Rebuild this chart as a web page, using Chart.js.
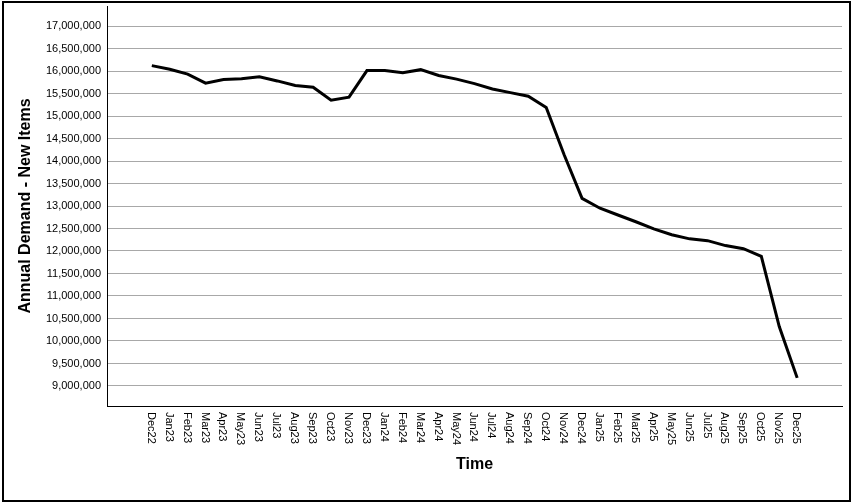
<!DOCTYPE html>
<html>
<head>
<meta charset="utf-8">
<script src="https://cdn.jsdelivr.net/npm/chart.js@4.4.0/dist/chart.umd.min.js"></script>
<style>
	html, body { margin: 0; padding: 0; background: #fff; }
	canvas { display: block; }
</style>
</head>
<body>
<canvas id="chart" width="853" height="503"></canvas>
<script>
const months = [
	'Dec22', 'Jan23', 'Feb23', 'Mar23', 'Apr23', 'May23', 'Jun23', 'Jul23', 'Aug23', 'Sep23', 'Oct23', 'Nov23',
	'Dec23', 'Jan24', 'Feb24', 'Mar24', 'Apr24', 'May24', 'Jun24', 'Jul24', 'Aug24', 'Sep24', 'Oct24', 'Nov24',
	'Dec24', 'Jan25', 'Feb25', 'Mar25', 'Apr25', 'May25', 'Jun25', 'Jul25', 'Aug25', 'Sep25', 'Oct25', 'Nov25',
	'Dec25',
];

// annual demand, new items
const demand = [
	16120000, 16040000, 15930000, 15730000, 15810000, 15830000, 15870000, 15780000, 15680000, 15640000, 15350000, 15420000,
	16010000, 16010000, 15960000, 16030000, 15900000, 15820000, 15720000, 15600000, 15520000, 15440000, 15190000, 14140000,
	13170000, 12950000, 12800000, 12650000, 12490000, 12360000, 12270000, 12230000, 12120000, 12050000, 11880000, 10320000,
	9180000,
];

// y tick values shown on the axis
const yTicks = [
	9000000, 9500000, 10000000, 10500000, 11000000, 11500000, 12000000, 12500000, 13000000,
	13500000, 14000000, 14500000, 15000000, 15500000, 16000000, 16500000, 17000000,
];

const yTitle = 'Annual Demand - New Items';
const xTitle = 'Time';
const FONT = "'Liberation Sans', Arial, sans-serif";

// outer frame round the whole picture
const framePlugin = {
	id: 'frame',
	beforeDraw: ( chart ) => {
		const ctx = chart.ctx;
		ctx.save();
		ctx.fillStyle = '#fff';
		ctx.fillRect( 0, 0, chart.width, chart.height );
		ctx.strokeStyle = '#000';
		ctx.lineWidth = 2;
		ctx.strokeRect( 3, 2, chart.width - 6, chart.height - 4 );
		ctx.restore();
	},
};

// month labels read top to bottom, which Chart.js can't rotate that way
const monthLabels = {
	id: 'monthLabels',
	afterDraw: ( chart ) => {
		const ctx = chart.ctx;
		const xs = chart.scales.x;
		ctx.save();
		ctx.fillStyle = '#000';
		ctx.font = '11px ' + FONT;
		ctx.textAlign = 'left';
		ctx.textBaseline = 'middle';
		months.forEach( ( m, i ) => {
			ctx.save();
			ctx.translate( xs.getPixelForValue( i ) - 1, chart.chartArea.bottom + 6 );
			ctx.rotate( Math.PI / 2 );
			ctx.fillText( m, 0, 0 );
			ctx.restore();
		} );
		ctx.restore();
	},
};

new Chart( document.getElementById( 'chart' ), {
	type: 'line',
	data: {
		datasets: [
			{
				data: months.map( ( m, i ) => ( { x: i, y: demand[ i ] } ) ),
				borderColor: '#000',
				borderWidth: 3,
				pointRadius: 0,
				tension: 0,
				fill: false,
			},
		],
	},
	options: {
		responsive: false,
		animation: false,
		devicePixelRatio: 1,
		layout: { padding: { top: 6, right: 11, left: 0, bottom: 0 } },
		plugins: {
			legend: { display: false },
			tooltip: { enabled: false },
		},
		scales: {
			x: {
				type: 'linear',
				min: -2.5,
				max: 38.5,
				grid: { display: false },
				border: { color: '#000', width: 1 },
				ticks: { display: false, stepSize: 1 },
				title: {
					display: true,
					text: xTitle,
					color: '#000',
					font: { family: FONT, size: 16, weight: 'bold' },
					padding: { top: 0, bottom: 29 },
				},
				afterFit: ( scale ) => {
					scale.height = 97;
					scale.paddingLeft = 0;
					scale.paddingRight = 0;
				},
			},
			y: {
				min: 8555000,
				max: 17445000,
				grid: { color: '#a8a8a8', lineWidth: 1, drawTicks: false },
				border: { color: '#000', width: 1 },
				afterBuildTicks: ( scale ) => {
					scale.ticks = yTicks.map( ( v ) => ( { value: v } ) );
				},
				ticks: {
					autoSkip: false,
					color: '#000',
					padding: 6,
					font: { family: FONT, size: 11 },
					callback: ( v ) => v.toLocaleString( 'en-US' ),
				},
				title: {
					display: true,
					text: yTitle,
					color: '#000',
					font: { family: FONT, size: 16, weight: 'bold' },
					padding: { top: 16, bottom: 0 },
				},
				afterFit: ( scale ) => {
					scale.width = 107;
					scale.paddingTop = 0;
					scale.paddingBottom = 0;
				},
			},
		},
	},
	plugins: [ framePlugin, monthLabels ],
} );
</script>
</body>
</html>
